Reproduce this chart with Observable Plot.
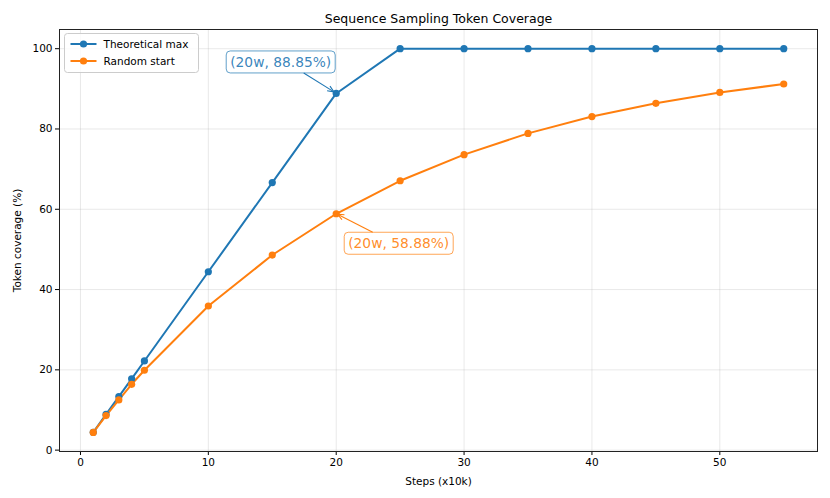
<!DOCTYPE html>
<html><head><meta charset="utf-8">
<script src="https://cdn.jsdelivr.net/npm/d3@7"></script>
<script src="https://cdn.jsdelivr.net/npm/@observablehq/plot@0.6"></script>
<style>body{margin:0;background:#fff} #chart{width:830px;height:498px}</style>
</head><body><div id="chart"></div>
<script>
const steps = [1, 2, 3, 4, 5, 10, 15, 20, 25, 30, 35, 40, 45, 50, 55];
const theoreticalMax = [4.44, 8.89, 13.33, 17.77, 22.21, 44.43, 66.64, 88.85, 100, 100, 100, 100, 100, 100, 100];
const randomStart = [4.4, 8.6, 12.5, 16.4, 19.9, 35.9, 48.6, 58.88, 67.1, 73.6, 78.9, 83.1, 86.4, 89.1, 91.2];
const seriesNames = ["Theoretical max", "Random start"];
const seriesColors = ["#1f77b4", "#ff7f0e"];
const xTicks = [0, 10, 20, 30, 40, 50];
const yTicks = [0, 20, 40, 60, 80, 100];
const titleText = "Sequence Sampling Token Coverage";
const xLabel = "Steps (x10k)";
const yLabel = "Token coverage (%)";
const annotations = [
  {series: 0, step: 20, value: 88.85, text: "(20w, 88.85%)"},
  {series: 1, step: 20, value: 58.88, text: "(20w, 58.88%)"}
];

const data = steps.flatMap((s, i) => [
  {step: s, value: theoreticalMax[i], series: seriesNames[0]},
  {step: s, value: randomStart[i], series: seriesNames[1]}
]);

const plot = Plot.plot({
  width: 830, height: 498,
  marginLeft: 59, marginRight: 13, marginTop: 29, marginBottom: 47,
  style: {fontFamily: "DejaVu Sans", fontSize: "10.5px", color: "#000", background: "#fff"},
  x: {domain: [-1.64, 57.64]},
  y: {domain: [-0.34, 104.78]},
  color: {domain: seriesNames, range: seriesColors},
  marks: [
    Plot.gridX(xTicks, {stroke: "#b0b0b0", strokeOpacity: 0.35, strokeWidth: 0.8}),
    Plot.gridY(yTicks, {stroke: "#b0b0b0", strokeOpacity: 0.35, strokeWidth: 0.8}),
    Plot.axisX(xTicks, {tickSize: 4, tickPadding: 3, fontSize: 10.5, label: xLabel, labelAnchor: "center", labelArrow: "none", labelOffset: 33}),
    Plot.axisY(yTicks, {tickSize: 4, tickPadding: 3, fontSize: 10.5, label: yLabel, labelAnchor: "center", labelArrow: "none", labelOffset: 46}),
    Plot.frame({stroke: "#222", strokeWidth: 1}),
    Plot.line(data, {x: "step", y: "value", z: "series", stroke: "series", strokeWidth: 2}),
    Plot.dot(data, {x: "step", y: "value", fill: "series", r: 3.6}),
    Plot.text([titleText], {frameAnchor: "top", dy: -15, fontSize: 12.5, fill: "#000"})
  ]
});
document.getElementById("chart").appendChild(plot);

const svg = d3.select(plot);
const xs = plot.scale("x"), ys = plot.scale("y");

// annotations
const offsets = [{dx: -55, dy: -31, ax: -32, ay: -20}, {dx: 63, dy: 30, ax: 37, ay: 19}];
annotations.forEach((a, i) => {
  const px = xs.apply(a.step), py = ys.apply(a.value);
  const o = offsets[i];
  const col = seriesColors[a.series];
  const g = svg.append("g");
  const t = g.append("text").attr("x", px + o.dx).attr("y", py + o.dy)
    .attr("text-anchor", "middle").attr("dominant-baseline", "central")
    .attr("font-size", 13.8).attr("fill", col).attr("fill-opacity", 0.9).text(a.text);
  const bb = t.node().getBBox();
  g.insert("rect", "text").attr("x", bb.x - 4).attr("y", py + o.dy - 11)
    .attr("width", bb.width + 8).attr("height", 22).attr("rx", 4)
    .attr("fill", "#fff").attr("stroke", col).attr("stroke-opacity", 0.7).attr("stroke-width", 1);
  const sx = px + o.ax, sy = py + o.ay;
  const ang = Math.atan2(py - sy, px - sx);
  const ex = px - 2 * Math.cos(ang), ey = py - 2 * Math.sin(ang);
  g.append("line").attr("x1", sx).attr("y1", sy).attr("x2", ex).attr("y2", ey)
    .attr("stroke", col).attr("stroke-width", 1.1);
  const h = 7, w = 0.4;
  g.append("path").attr("d",
    `M${ex - h * Math.cos(ang - w)},${ey - h * Math.sin(ang - w)}L${ex},${ey}L${ex - h * Math.cos(ang + w)},${ey - h * Math.sin(ang + w)}`)
    .attr("fill", "none").attr("stroke", col).attr("stroke-width", 1.1);
});

// legend
const lg = svg.append("g").attr("transform", "translate(64.5,33.5)").attr("text-anchor", "start");
lg.append("rect").attr("width", 134).attr("height", 39).attr("rx", 3)
  .attr("fill", "#fff").attr("fill-opacity", 0.8).attr("stroke", "#ccc").attr("stroke-width", 1);
seriesNames.forEach((name, i) => {
  const yy = 10.5 + i * 17;
  lg.append("line").attr("x1", 6).attr("x2", 32).attr("y1", yy).attr("y2", yy)
    .attr("stroke", seriesColors[i]).attr("stroke-width", 2);
  lg.append("circle").attr("cx", 19).attr("cy", yy).attr("r", 3.6).attr("fill", seriesColors[i]);
  lg.append("text").attr("x", 39).attr("y", yy).attr("dominant-baseline", "central")
    .attr("text-anchor", "start").attr("font-size", 10.5).attr("fill", "#000").text(name);
});
</script>
</body></html>
